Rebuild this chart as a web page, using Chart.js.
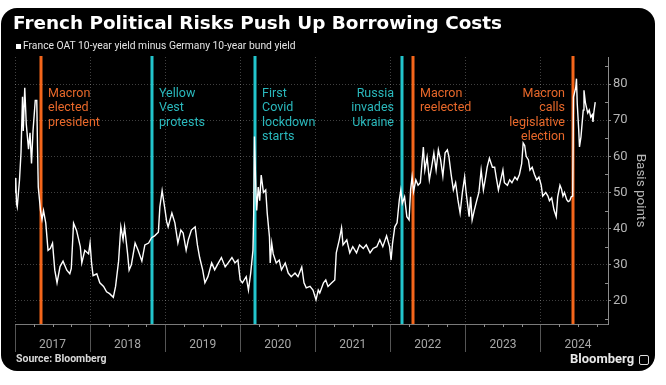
<!DOCTYPE html>
<html>
<head>
<meta charset="utf-8">
<script src="https://cdn.jsdelivr.net/npm/chart.js@4"></script>
<style>
  html, body { margin: 0; padding: 0; background: #fff; }
  #wrap { position: relative; width: 666px; height: 385px; overflow: hidden; }
  #card { position: absolute; left: 1px; top: 8px; width: 654px; height: 363px; background: #000; border-radius: 16px; }
  #chart { position: absolute; left: 0; top: 0; }
  .txt { position: absolute; white-space: nowrap; font-family: Roboto, sans-serif; }
  #title { left: 13px; top: 13px; font-family: 'DejaVu Sans', sans-serif; font-size: 18.4px; line-height: 19px; font-weight: 700; color: #fff; }
  #legend { left: 23px; top: 40px; font-size: 10.3px; line-height: 12px; color: #e4e4e4; }
  #legendBox { position: absolute; left: 16px; top: 44px; width: 5px; height: 5px; background: #fff; }
  #source { left: 16px; top: 352px; font-size: 10.5px; line-height: 14px; font-weight: 700; color: #d8d8d8; }
  #logo { left: 570px; top: 351px; font-size: 13px; line-height: 15px; font-weight: 700; color: #e8e8e8; }
  #logoIcon { position: absolute; left: 639px; top: 355px; width: 8px; height: 8px; border: 1px solid #ddd; border-radius: 2px; }
</style>
</head>
<body>
<div id="wrap">
  <div id="card"></div>
  <canvas id="chart" width="666" height="385"></canvas>
  <div class="txt" id="title">French Political Risks Push Up Borrowing Costs</div>
  <div id="legendBox"></div>
  <div class="txt" id="legend">France OAT 10-year yield minus Germany 10-year bund yield</div>
  <div class="txt" id="source">Source: Bloomberg</div>
  <div class="txt" id="logo">Bloomberg</div>
  <div id="logoIcon"></div>
</div>
<script>
// dates as decimal years, spread in basis points
var dates = [
  2017.00, 2017.01, 2017.02, 2017.03, 2017.06, 2017.08, 2017.10, 2017.11, 2017.13, 2017.15,
  2017.18, 2017.20, 2017.22, 2017.24, 2017.27, 2017.29, 2017.30, 2017.31, 2017.34, 2017.36,
  2017.38, 2017.41, 2017.44, 2017.47, 2017.50, 2017.53, 2017.56, 2017.60, 2017.64, 2017.69,
  2017.73, 2017.75, 2017.78, 2017.82, 2017.87, 2017.89, 2017.93, 2017.98, 2018.00, 2018.02,
  2018.04, 2018.09, 2018.13, 2018.18, 2018.22, 2018.26, 2018.31, 2018.34, 2018.38, 2018.41,
  2018.44, 2018.46, 2018.50, 2018.52, 2018.55, 2018.60, 2018.64, 2018.69, 2018.73, 2018.78,
  2018.82, 2018.86, 2018.91, 2018.93, 2018.96, 2019.00, 2019.02, 2019.04, 2019.09, 2019.13,
  2019.17, 2019.21, 2019.24, 2019.28, 2019.31, 2019.35, 2019.40, 2019.43, 2019.46, 2019.50,
  2019.53, 2019.57, 2019.62, 2019.66, 2019.71, 2019.75, 2019.80, 2019.84, 2019.89, 2019.93,
  2019.97, 2020.00, 2020.03, 2020.08, 2020.11, 2020.14, 2020.17, 2020.18, 2020.19, 2020.21,
  2020.22, 2020.24, 2020.26, 2020.28, 2020.31, 2020.34, 2020.36, 2020.39, 2020.40, 2020.42,
  2020.44, 2020.48, 2020.52, 2020.55, 2020.60, 2020.64, 2020.68, 2020.73, 2020.77, 2020.82,
  2020.85, 2020.88, 2020.93, 2020.97, 2021.01, 2021.04, 2021.06, 2021.11, 2021.14, 2021.17,
  2021.22, 2021.26, 2021.28, 2021.32, 2021.35, 2021.37, 2021.42, 2021.46, 2021.50, 2021.55,
  2021.59, 2021.64, 2021.68, 2021.73, 2021.77, 2021.82, 2021.86, 2021.90, 2021.95, 2021.99,
  2022.01, 2022.03, 2022.06, 2022.09, 2022.12, 2022.14, 2022.16, 2022.19, 2022.22, 2022.25,
  2022.27, 2022.29, 2022.31, 2022.34, 2022.37, 2022.40, 2022.44, 2022.46, 2022.49, 2022.52,
  2022.55, 2022.58, 2022.61, 2022.64, 2022.67, 2022.70, 2022.73, 2022.76, 2022.78, 2022.81,
  2022.84, 2022.87, 2022.90, 2022.93, 2022.96, 2022.99, 2023.01, 2023.05, 2023.07, 2023.09,
  2023.12, 2023.15, 2023.18, 2023.21, 2023.24, 2023.27, 2023.29, 2023.32, 2023.36, 2023.39,
  2023.41, 2023.44, 2023.48, 2023.50, 2023.52, 2023.56, 2023.59, 2023.62, 2023.66, 2023.69,
  2023.72, 2023.75, 2023.77, 2023.79, 2023.81, 2023.84, 2023.86, 2023.89, 2023.92, 2023.95,
  2023.98, 2024.01, 2024.03, 2024.07, 2024.10, 2024.12, 2024.15, 2024.18, 2024.21, 2024.23,
  2024.26, 2024.28, 2024.30, 2024.32, 2024.35, 2024.37, 2024.39, 2024.41, 2024.43, 2024.44,
  2024.47, 2024.48, 2024.49, 2024.51, 2024.52, 2024.54, 2024.57, 2024.58, 2024.60, 2024.63,
  2024.65, 2024.67, 2024.69, 2024.70, 2024.71, 2024.73
];
var spread = [
  50, 54, 47, 46, 53.5, 61, 76.5, 67, 79, 69,
  62, 66.5, 58, 67, 75.5, 75.5, 62.5, 51.5, 45, 42.5,
  45, 41.5, 34, 34.5, 36, 28.5, 25, 29.5, 31, 28.5,
  27.5, 29, 41.5, 39.5, 35, 30.5, 34, 33, 36, 30.5,
  27, 27.5, 25, 24, 22.5, 22, 21, 24, 31, 40.5,
  37, 40.5, 33, 28.5, 30, 36, 34, 31, 35.5, 36,
  37.5, 38, 39, 46, 50.5, 45, 42, 40.5, 44.3, 41.6,
  36, 39.6, 38.8, 34, 37, 39.6, 40.5, 35.5, 32, 28.6,
  25, 26.7, 30.5, 28.6, 30.5, 32, 29.4, 30.5, 32, 30.5,
  31.3, 25.8, 25, 26.7, 23, 27.7, 34, 44, 65.5, 50,
  45, 51.5, 47.7, 54.8, 50, 50.7, 44.3, 37.7, 30.5, 36,
  33, 30.5, 31.3, 28.6, 30.5, 27.7, 26.7, 27.7, 26.7, 29.4,
  25, 23.6, 24, 23, 20.3, 23, 22.2, 25, 25.8, 24,
  25, 25.8, 33.3, 36.9, 40.2, 35.5, 36.9, 33.3, 35, 33.3,
  35.5, 34.5, 35.5, 33.3, 34.5, 35, 36.9, 35, 38, 35,
  31.3, 36, 40.5, 41.6, 48, 50.7, 47, 48.8, 43.3, 42.4,
  50.7, 54.3, 50.3, 53.5, 52, 52.7, 62.6, 56.2, 59.8, 53.5,
  57, 60.9, 56.2, 61.8, 59, 54.5, 61, 61.8, 60, 55,
  50.7, 52.7, 48, 44.3, 50, 54.3, 50, 43.3, 48.8, 42.4,
  45.2, 47.7, 50, 56.2, 50.7, 54.3, 57, 59.5, 57, 57,
  54.3, 50.7, 54.3, 56.2, 52.7, 52, 53.5, 52.7, 54.3, 53.5,
  55, 58, 63.7, 63, 60, 59, 56.2, 57, 55, 53.5,
  54.3, 52, 49, 50, 49, 47.7, 48.5, 45.2, 43.3, 48.8,
  52, 51, 49, 50, 48, 47.5, 47.7, 48.8, 49, 76.4,
  79, 81.5, 74.7, 67.3, 62.6, 65.4, 72.8, 78.3, 74.7, 72,
  72.8, 70.9, 71.5, 69.5, 72, 75
];

// year separators at whole years, year labels centred mid-year
var xTickValues = [2017, 2017.5, 2018, 2018.5, 2019, 2019.5, 2020, 2020.5, 2021, 2021.5,
  2022, 2022.5, 2023, 2023.5, 2024, 2024.5];
var xTickLabels = ['', '2017', '', '2018', '', '2019', '', '2020', '', '2021',
  '', '2022', '', '2023', '', '2024'];
var yTickValues = [20, 30, 40, 50, 60, 70, 80];

var eventDates = [2017.34, 2018.83, 2020.20, 2022.15, 2022.30, 2024.43];
var eventNames = [
  ['Macron', 'elected', 'president'],
  ['Yellow', 'Vest', 'protests'],
  ['First', 'Covid', 'lockdown', 'starts'],
  ['Russia', 'invades', 'Ukraine'],
  ['Macron', 'reelected'],
  ['Macron', 'calls', 'legislative', 'election']
];
var eventTypes = ['politics', 'shock', 'shock', 'shock', 'politics', 'politics'];

var typeColors = {
  politics: { line: '#f4661b', text: '#e8682a' },
  shock: { line: '#22c4cc', text: '#2ab8bc' }
};

var eventsPlugin = {
  id: 'events',
  beforeDatasetsDraw: function (chart) {
    var ctx = chart.ctx, a = chart.chartArea, x = chart.scales.x;
    ctx.save();
    eventDates.forEach(function (d, i) {
      var px = Math.round(x.getPixelForValue(d));
      var col = typeColors[eventTypes[i]];
      ctx.strokeStyle = col.line;
      ctx.lineWidth = 3;
      ctx.beginPath();
      ctx.moveTo(px, a.top - 1);
      ctx.lineTo(px, a.bottom);
      ctx.stroke();
      var next = i + 1 < eventDates.length ? eventDates[i + 1] : x.max;
      var toLeft = next - d < 0.5;
      ctx.fillStyle = col.text;
      ctx.font = '12.5px Roboto';
      ctx.textBaseline = 'alphabetic';
      ctx.textAlign = toLeft ? 'right' : 'left';
      var tx = toLeft ? px - 8 : px + 7;
      eventNames[i].forEach(function (w, j) {
        ctx.fillText(w, tx, a.top + 40 + j * 14.3);
      });
    });
    ctx.restore();
  },
  afterDraw: function (chart) {
    // minor ticks: quarters on the x axis, 5s on the y axis
    var ctx = chart.ctx, a = chart.chartArea, x = chart.scales.x, y = chart.scales.y;
    ctx.save();
    ctx.strokeStyle = '#8c8c8c';
    ctx.lineWidth = 1;
    ctx.beginPath();
    for (var q = x.min + 0.25; q < x.max; q += 0.25) {
      if (Math.abs(q - Math.round(q)) < 0.01) continue;
      var px = Math.round(x.getPixelForValue(q)) + 0.5;
      ctx.moveTo(px, a.bottom);
      ctx.lineTo(px, a.bottom + 3);
    }
    for (var v = 15; v < y.max; v += 10) {
      var py = Math.round(y.getPixelForValue(v)) + 0.5;
      ctx.moveTo(a.right - 3, py);
      ctx.lineTo(a.right, py);
    }
    ctx.stroke();
    ctx.restore();
  }
};

Chart.defaults.font.family = 'Roboto, sans-serif';

var ctx1 = document.getElementById('chart').getContext('2d');
var spreadChart = new Chart(ctx1, {
  type: 'line',
  data: {
    datasets: [{
      label: 'France OAT 10-year yield minus Germany 10-year bund yield',
      data: dates.map(function (d, i) { return { x: d, y: spread[i] }; }),
      borderColor: '#ffffff',
      borderWidth: 1.4,
      pointRadius: 0,
      tension: 0,
      fill: false
    }]
  },
  options: {
    responsive: false,
    animation: false,
    devicePixelRatio: 1,
    layout: {
      padding: { left: 15, right: 18, top: 57, bottom: 31 }
    },
    plugins: {
      legend: { display: false },
      title: { display: false },
      tooltip: { enabled: false }
    },
    scales: {
      x: {
        type: 'linear',
        min: 2017,
        max: 2024.9,
        afterBuildTicks: function (s) {
          s.ticks = xTickValues.map(function (v) { return { value: v }; });
        },
        afterFit: function (s) { s.height = 30; },
        ticks: {
          autoSkip: false,
          maxRotation: 0,
          padding: -14,
          color: '#a8a8a8',
          font: { size: 12 },
          callback: function (v, i) { return xTickLabels[i]; }
        },
        grid: {
          color: function (c) { return xTickLabels[c.index] === '' ? 'rgba(255,255,255,0.25)' : 'rgba(0,0,0,0)'; },
          tickColor: function (c) { return xTickLabels[c.index] === '' ? '#555555' : 'rgba(0,0,0,0)'; },
          tickLength: 28,
          lineWidth: 1
        },
        border: { color: '#7a7a7a', dash: [1, 2] }
      },
      y: {
        position: 'right',
        min: 13.6,
        max: 87.5,
        afterBuildTicks: function (s) {
          s.ticks = yTickValues.map(function (v) { return { value: v }; });
        },
        afterFit: function (s) { s.width = 40; },
        ticks: {
          color: '#b4b4b4',
          font: { size: 13 },
          padding: 2
        },
        grid: {
          color: 'rgba(255,255,255,0.25)',
          tickColor: '#8c8c8c',
          tickLength: 3
        },
        border: { color: '#8c8c8c', dash: [1, 2] },
        title: {
          display: true,
          text: 'Basis points',
          color: '#b4b4b4',
          font: { size: 13.5 },
          padding: { top: 0, bottom: 0 }
        }
      }
    }
  },
  plugins: [eventsPlugin]
});
</script>
</body>
</html>
